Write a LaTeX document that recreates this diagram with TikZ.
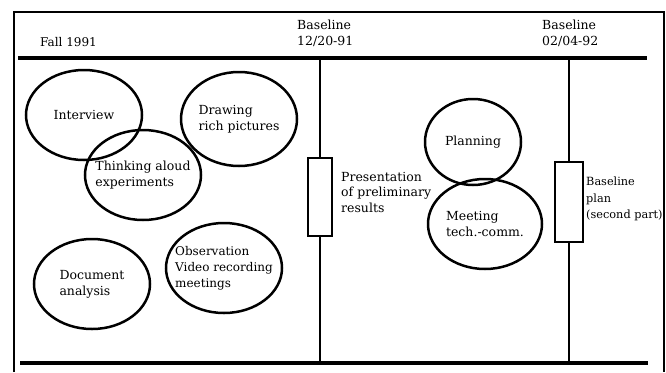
\documentclass[tikz,border=0pt]{standalone}
\usepackage{fontspec}
\setmainfont{DejaVu Serif}
\usetikzlibrary{shapes.geometric}
\begin{document}
\begin{tikzpicture}[x=1pt, y=-1pt,
  frame/.style={draw=black, line width=2pt},
  bar/.style={draw=black, line width=4.8pt},
  stem/.style={draw=black, line width=2.5pt},
  activity/.style={ellipse, draw=black, line width=2.5pt, minimum width=116pt, minimum height=90pt, align=left, font=\fontsize{12.5}{16}\selectfont, inner xsep=-10pt, inner ysep=0pt},
  mark box/.style={rectangle, draw=black, line width=2.5pt, minimum width=24pt, inner sep=0pt},
  label/.style={align=left, anchor=north west, font=\fontsize{12.5}{15.5}\selectfont, inner sep=0pt}
]
\useasboundingbox (0,0) rectangle (666,372);
% outer frame
\draw[frame] (14,372) -- (14,12) -- (664,12) -- (664,372);
% time bars
\coordinate (topL) at (18,58);
\coordinate (topR) at (647,58);
\coordinate (botL) at (20,363);
\coordinate (botR) at (648,363);
\draw[bar] (topL) -- (topR);
\draw[bar] (botL) -- (botR);
% headings
\node[label, font=\fontsize{12}{15}\selectfont] (fall) at (40,37) {Fall 1991};
\node[label] (base1) at (297,20) {Baseline\\12/20-91};
\node[label] (base2) at (542,20) {Baseline\\02/04-92};
% milestones
\node[mark box, minimum height=78pt] (box1) at (320,197) {};
\node[mark box, minimum height=80pt, minimum width=28pt] (box2) at (569,202) {};
\coordinate (t1) at (320,58);
\coordinate (b1) at (320,363);
\coordinate (t2) at (569,58);
\coordinate (b2) at (569,363);
\draw[stem] (t1) -- (box1.north);
\draw[stem] (box1.south) -- (b1);
\draw[stem] (t2) -- (box2.north);
\draw[stem] (box2.south) -- (b2);
\node[label] (pres) at (341,172) {Presentation\\of preliminary\\results};
\node[label, font=\fontsize{11.3}{16.5}\selectfont] (plan) at (586,177) {Baseline\\plan\\(second part)};
% activities
\node[activity] (interview) at (84,115) {Interview};
\node[activity, minimum height=94pt] (drawing) at (239,119) {Drawing\\rich pictures};
\node[activity] (thinking) at (143,175) {Thinking aloud\\experiments};
\node[activity] (document) at (92,284) {Document\\analysis};
\node[activity, font=\fontsize{12}{16}\selectfont] (observe) at (224,268) {Observation\\Video recording\\meetings};
\node[activity, minimum width=96pt, minimum height=86pt] (planning) at (473,142) {Planning};
\node[activity, minimum width=114pt] (meeting) at (485,224) {Meeting\\tech.-comm.};
\end{tikzpicture}
\end{document}
